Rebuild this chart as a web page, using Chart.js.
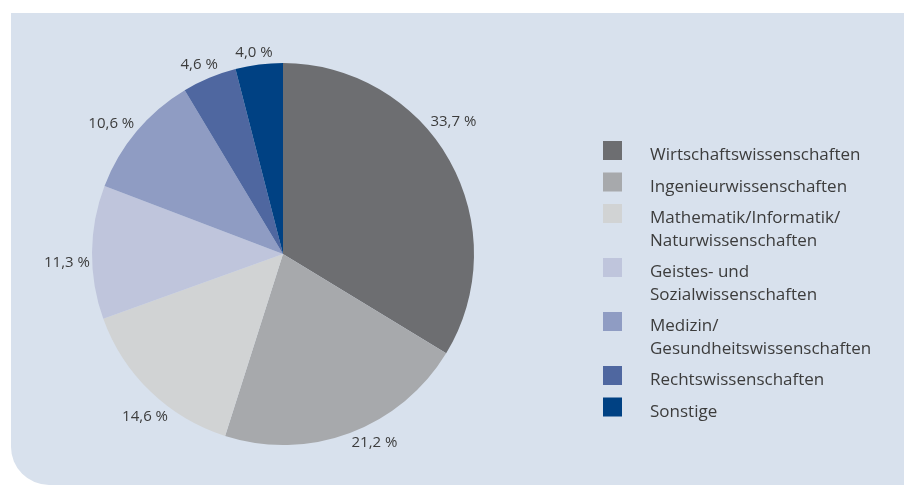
<!DOCTYPE html>
<html>
<head>
<meta charset="utf-8">
<script src="https://cdn.jsdelivr.net/npm/chart.js@4/dist/chart.umd.min.js"></script>
<style>
  html, body { margin: 0; padding: 0; background: #ffffff; }
  #wrap { width: 904px; height: 485px; position: relative; }
</style>
</head>
<body>
<div id="wrap"><canvas id="myChart" width="904" height="485"></canvas></div>
<script>
// Studienbereiche und Anteile in Prozent
const categories = [
  ['Wirtschaftswissenschaften'],
  ['Ingenieurwissenschaften'],
  ['Mathematik/Informatik/', 'Naturwissenschaften'],
  ['Geistes- und', 'Sozialwissenschaften'],
  ['Medizin/', 'Gesundheitswissenschaften'],
  ['Rechtswissenschaften'],
  ['Sonstige']
];
const shares = [33.7, 21.2, 14.6, 11.3, 10.6, 4.6, 4.0];
const colors = ['#6d6e71', '#a7a9ac', '#d1d3d4', '#bfc5dc', '#8f9cc3', '#4f67a0', '#004183'];

const FONT = '"Open Sans", "Noto Sans", sans-serif';
const TEXT = '#3c3c3c';

let ctx = document.getElementById('myChart');

// Hintergrundfläche mit abgerundeter Ecke unten links
const panel = {
  id: 'panel',
  beforeDraw(chart) {
    const c = chart.ctx;
    const x = 11, y = 13, w = chart.width - x, h = chart.height - y, r = 38;
    c.save();
    c.fillStyle = '#d8e1ed';
    c.beginPath();
    c.moveTo(x, y);
    c.lineTo(x + w, y);
    c.lineTo(x + w, y + h);
    c.lineTo(x + r, y + h);
    c.arcTo(x, y + h, x, y + h - r, r);
    c.closePath();
    c.fill();
    c.restore();
  }
};

// Prozentwerte außerhalb der Segmente, etwas vor der Segmentmitte verankert
const sliceLabels = {
  id: 'sliceLabels',
  afterDatasetsDraw(chart, args, opts) {
    const c = chart.ctx;
    const meta = chart.getDatasetMeta(0);
    c.save();
    c.font = opts.font;
    c.fillStyle = TEXT;
    c.textAlign = 'center';
    c.textBaseline = 'middle';
    meta.data.forEach((arc, i) => {
      const p = arc.getProps(['x', 'y', 'startAngle', 'endAngle', 'outerRadius'], true);
      const a = p.startAngle + (p.endAngle - p.startAngle) * opts.anchor;
      const txt = shares[i].toFixed(1).replace('.', ',') + ' %';
      const w = c.measureText(txt).width;
      const h = 15;
      const dx = Math.cos(a), dy = Math.sin(a);
      const d = p.outerRadius + opts.gap + Math.abs(dx) * w / 2 + Math.abs(dy) * h / 2;
      c.fillText(txt, p.x + dx * d, p.y + dy * d);
    });
    c.restore();
  }
};

// Legende rechts, mit mehrzeiligen Einträgen
const sideLegend = {
  id: 'sideLegend',
  afterDraw(chart) {
    const c = chart.ctx;
    const boxX = 603, textX = 650, box = 19, lineH = 22.5, gap = 9;
    let y = 160;
    c.save();
    c.font = '17px ' + FONT;
    c.textBaseline = 'alphabetic';
    c.textAlign = 'left';
    categories.forEach((lines, i) => {
      c.fillStyle = colors[i];
      c.fillRect(boxX, y - box, box, box);
      c.fillStyle = TEXT;
      lines.forEach((t, k) => c.fillText(t, textX, y + k * lineH));
      y += (lines.length - 1) * lineH + lineH + gap;
    });
    c.restore();
  }
};

let myChart = new Chart(ctx, {
  type: 'pie',
  data: {
    labels: categories.map(l => l.join(' ')),
    datasets: [{
      data: shares,
      backgroundColor: colors,
      borderWidth: 0
    }]
  },
  options: {
    responsive: false,
    maintainAspectRatio: false,
    animation: false,
    layout: { padding: { top: 63, bottom: 40, left: 92, right: 430 } },
    plugins: {
      legend: { display: false },
      tooltip: { enabled: false },
      sliceLabels: { font: '15px ' + FONT, anchor: 0.43, gap: 2 }
    }
  },
  plugins: [panel, sliceLabels, sideLegend]
});
</script>
</body>
</html>
